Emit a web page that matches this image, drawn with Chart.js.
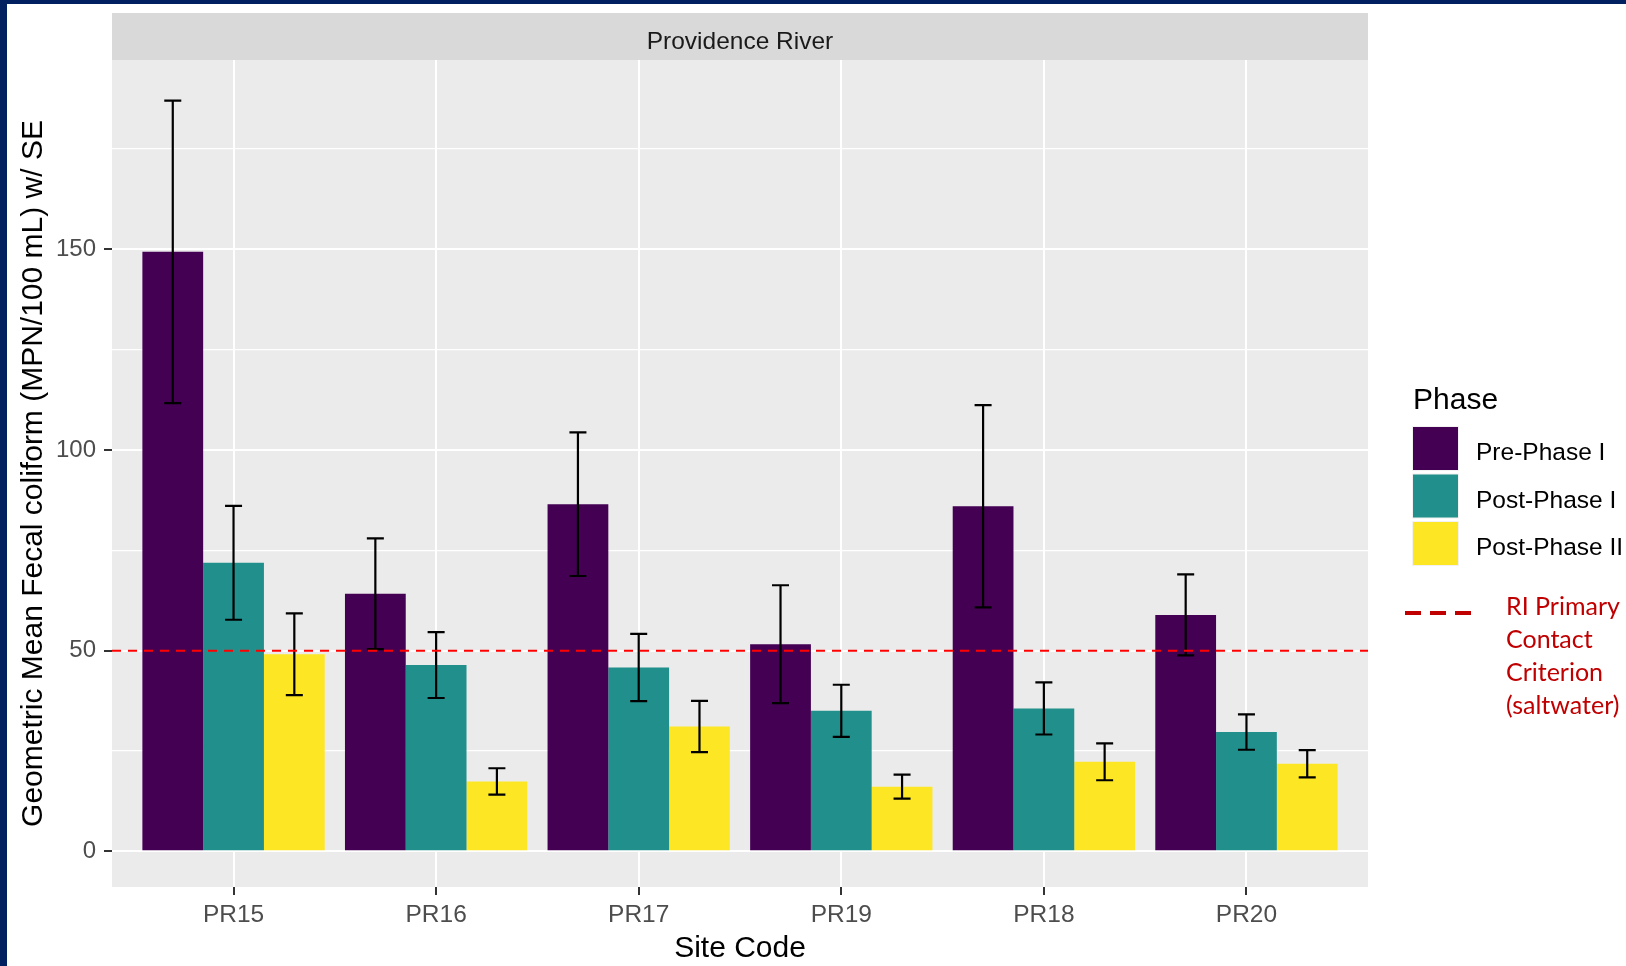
<!DOCTYPE html>
<html>
<head>
<meta charset="utf-8">
<title>Providence River - Geometric Mean Fecal coliform</title>
<script src="https://cdn.jsdelivr.net/npm/chart.js@4.4.1/dist/chart.umd.min.js"></script>
<style>
  html, body { margin: 0; padding: 0; background: #fff; overflow: hidden; }
  canvas { display: block; }
</style>
</head>
<body>
<canvas id="chart" width="1626" height="966"></canvas>
<script>
// Site order as it appears in the facet
const sites = ['PR15', 'PR16', 'PR17', 'PR19', 'PR18', 'PR20'];
const phases = ['Pre-Phase I', 'Post-Phase I', 'Post-Phase II'];
const phaseColors = ['#440154', '#21908C', '#FDE725'];

// Geometric means (MPN/100 mL)
const prePhaseI = [149.4, 64.2, 86.5, 51.6, 86.0, 58.9];
const postPhaseI = [71.9, 46.4, 45.8, 35.0, 35.6, 29.7];
const postPhaseII = [49.1, 17.4, 31.1, 16.1, 22.3, 21.8];

// standard errors (bar +/- SE)
const prePhaseISe = [37.7, 13.8, 17.9, 14.7, 25.2, 10.1];
const postPhaseISe = [14.2, 8.2, 8.4, 6.5, 6.5, 4.4];
const postPhaseIISe = [10.2, 3.3, 6.4, 3.0, 4.6, 3.4];

// axis
const yTicks = [0, 25, 50, 75, 100, 125, 150, 175];
const yMin = -8.9;
const yMax = 197.2;
const criterion = 50; // RI primary contact criterion, saltwater
const criterionLabel = ['RI Primary', 'Contact', 'Criterion', '(saltwater)'];

const panelTitle = 'Providence River';
const xTitle = 'Site Code';
const yTitle = 'Geometric Mean Fecal coliform (MPN/100 mL) w/ SE';
const legendTitle = 'Phase';

const FONT = "'Liberation Sans', Arial, sans-serif";
Chart.defaults.font.family = FONT;

const seriesValues = [prePhaseI, postPhaseI, postPhaseII];
const seriesSe = [prePhaseISe, postPhaseISe, postPhaseIISe];

const datasets = phases.map((p, k) => ({
  label: p,
  data: seriesValues[k].map((v, i) => ({ x: i + 1, y: v })),
  se: seriesSe[k],
  backgroundColor: phaseColors[k],
  borderWidth: 0,
  categoryPercentage: 0.9,
  barPercentage: 1.0
}));

// panel background, strip, page frame
const backdrop = {
  id: 'backdrop',
  beforeDraw(chart) {
    const { ctx, chartArea: a, width, height } = chart;
    ctx.save();
    ctx.fillStyle = '#ffffff';
    ctx.fillRect(0, 0, width, height);
    ctx.fillStyle = '#002060';
    ctx.fillRect(0, 0, 7, height);
    ctx.fillRect(0, 0, width, 4);
    ctx.fillStyle = '#EBEBEB';
    ctx.fillRect(a.left, a.top, a.right - a.left, a.bottom - a.top);
    // facet strip
    ctx.fillStyle = '#D9D9D9';
    ctx.fillRect(a.left, 13, a.right - a.left, a.top - 13);
    ctx.fillStyle = '#1A1A1A';
    ctx.font = '24.5px ' + FONT;
    ctx.textAlign = 'center';
    ctx.textBaseline = 'middle';
    ctx.fillText(panelTitle, (a.left + a.right) / 2, 42);
    ctx.restore();
  }
};

// error bars + criterion line
const overlays = {
  id: 'overlays',
  afterDatasetsDraw(chart) {
    const { ctx, chartArea: a } = chart;
    const y = chart.scales.y;
    ctx.save();
    ctx.strokeStyle = '#000';
    ctx.lineWidth = 2.2;
    chart.data.datasets.forEach((ds, di) => {
      const meta = chart.getDatasetMeta(di);
      meta.data.forEach((bar, i) => {
        const v = ds.data[i].y;
        const se = ds.se[i];
        const top = y.getPixelForValue(v + se);
        const bot = y.getPixelForValue(v - se);
        const half = bar.width * 0.14;
        ctx.beginPath();
        ctx.moveTo(bar.x, top); ctx.lineTo(bar.x, bot);
        ctx.moveTo(bar.x - half, top); ctx.lineTo(bar.x + half, top);
        ctx.moveTo(bar.x - half, bot); ctx.lineTo(bar.x + half, bot);
        ctx.stroke();
      });
    });
    // dashed criterion
    const cy = y.getPixelForValue(criterion);
    ctx.strokeStyle = '#FF0000';
    ctx.lineWidth = 2;
    ctx.setLineDash([9, 7]);
    ctx.beginPath();
    ctx.moveTo(a.left, cy);
    ctx.lineTo(a.right, cy);
    ctx.stroke();
    ctx.restore();
  }
};

// legend at the right, ggplot style
const sideLegend = {
  id: 'sideLegend',
  afterDraw(chart) {
    const { ctx } = chart;
    ctx.save();
    ctx.fillStyle = '#000';
    ctx.font = '30px ' + FONT;
    ctx.textAlign = 'left';
    ctx.textBaseline = 'middle';
    ctx.fillText(legendTitle, 1413, 401);
    const keyTop = 427, keyH = 43, keyGap = 4.5;
    chart.data.datasets.forEach((ds, k) => {
      const ky = keyTop + k * (keyH + keyGap);
      ctx.fillStyle = '#F2F2F2';
      ctx.fillRect(1412, ky - 1, 47, keyH + 2);
      ctx.fillStyle = ds.backgroundColor;
      ctx.fillRect(1413, ky, 45, keyH);
      ctx.fillStyle = '#000';
      ctx.font = '24.5px ' + FONT;
      ctx.fillText(ds.label, 1476, ky + keyH / 2 + 5);
    });
    // criterion entry
    ctx.strokeStyle = '#C00000';
    ctx.lineWidth = 4;
    ctx.setLineDash([16, 9]);
    ctx.beginPath();
    ctx.moveTo(1405, 613);
    ctx.lineTo(1471, 613);
    ctx.stroke();
    ctx.setLineDash([]);
    ctx.fillStyle = '#C00000';
    ctx.font = "25px Lato, 'Open Sans', sans-serif";
    criterionLabel.forEach((t, i) => ctx.fillText(t, 1506, 607 + i * 33));
    ctx.restore();
  }
};

const isMajor = v => v % 50 === 0;

new Chart(document.getElementById('chart'), {
  type: 'bar',
  data: { datasets },
  plugins: [backdrop, overlays, sideLegend],
  options: {
    responsive: false,
    devicePixelRatio: 1,
    animation: false,
    events: [],
    layout: { padding: { left: 0, top: 60, right: 258, bottom: 0 } },
    plugins: { legend: { display: false }, tooltip: { enabled: false } },
    scales: {
      x: {
        type: 'linear',
        offset: false,
        min: 0.4,
        max: sites.length + 0.6,
        afterBuildTicks: s => { s.ticks = sites.map((_, i) => ({ value: i + 1 })); },
        afterFit: s => { s.height = 79; },
        ticks: {
          callback: v => sites[v - 1],
          color: '#4D4D4D',
          font: { size: 24.5 },
          padding: 6,
          maxRotation: 0,
          autoSkip: false
        },
        grid: {
          offset: false,
          color: '#FFFFFF',
          lineWidth: 2,
          tickColor: '#333333',
          tickWidth: 2,
          tickLength: 8
        },
        border: { display: false },
        title: {
          display: true,
          text: xTitle,
          color: '#000',
          font: { size: 30 },
          padding: { top: 0, bottom: -1 }
        }
      },
      y: {
        min: yMin,
        max: yMax,
        afterBuildTicks: s => { s.ticks = yTicks.map(v => ({ value: v })); },
        afterFit: s => { s.width = 112; },
        ticks: {
          callback: v => (isMajor(v) ? String(v) : ''),
          color: '#4D4D4D',
          font: { size: 24 },
          padding: 8
        },
        grid: {
          color: '#FFFFFF',
          lineWidth: c => (c.tick && isMajor(c.tick.value) ? 2 : 1.3),
          tickColor: c => (c.tick && isMajor(c.tick.value) ? '#333333' : 'rgba(0,0,0,0)'),
          tickWidth: 2,
          tickLength: 8
        },
        border: { display: false },
        title: {
          display: true,
          text: yTitle,
          color: '#000',
          font: { size: 30 },
          padding: { top: 16, bottom: 0 }
        }
      }
    }
  }
});
</script>
</body>
</html>
